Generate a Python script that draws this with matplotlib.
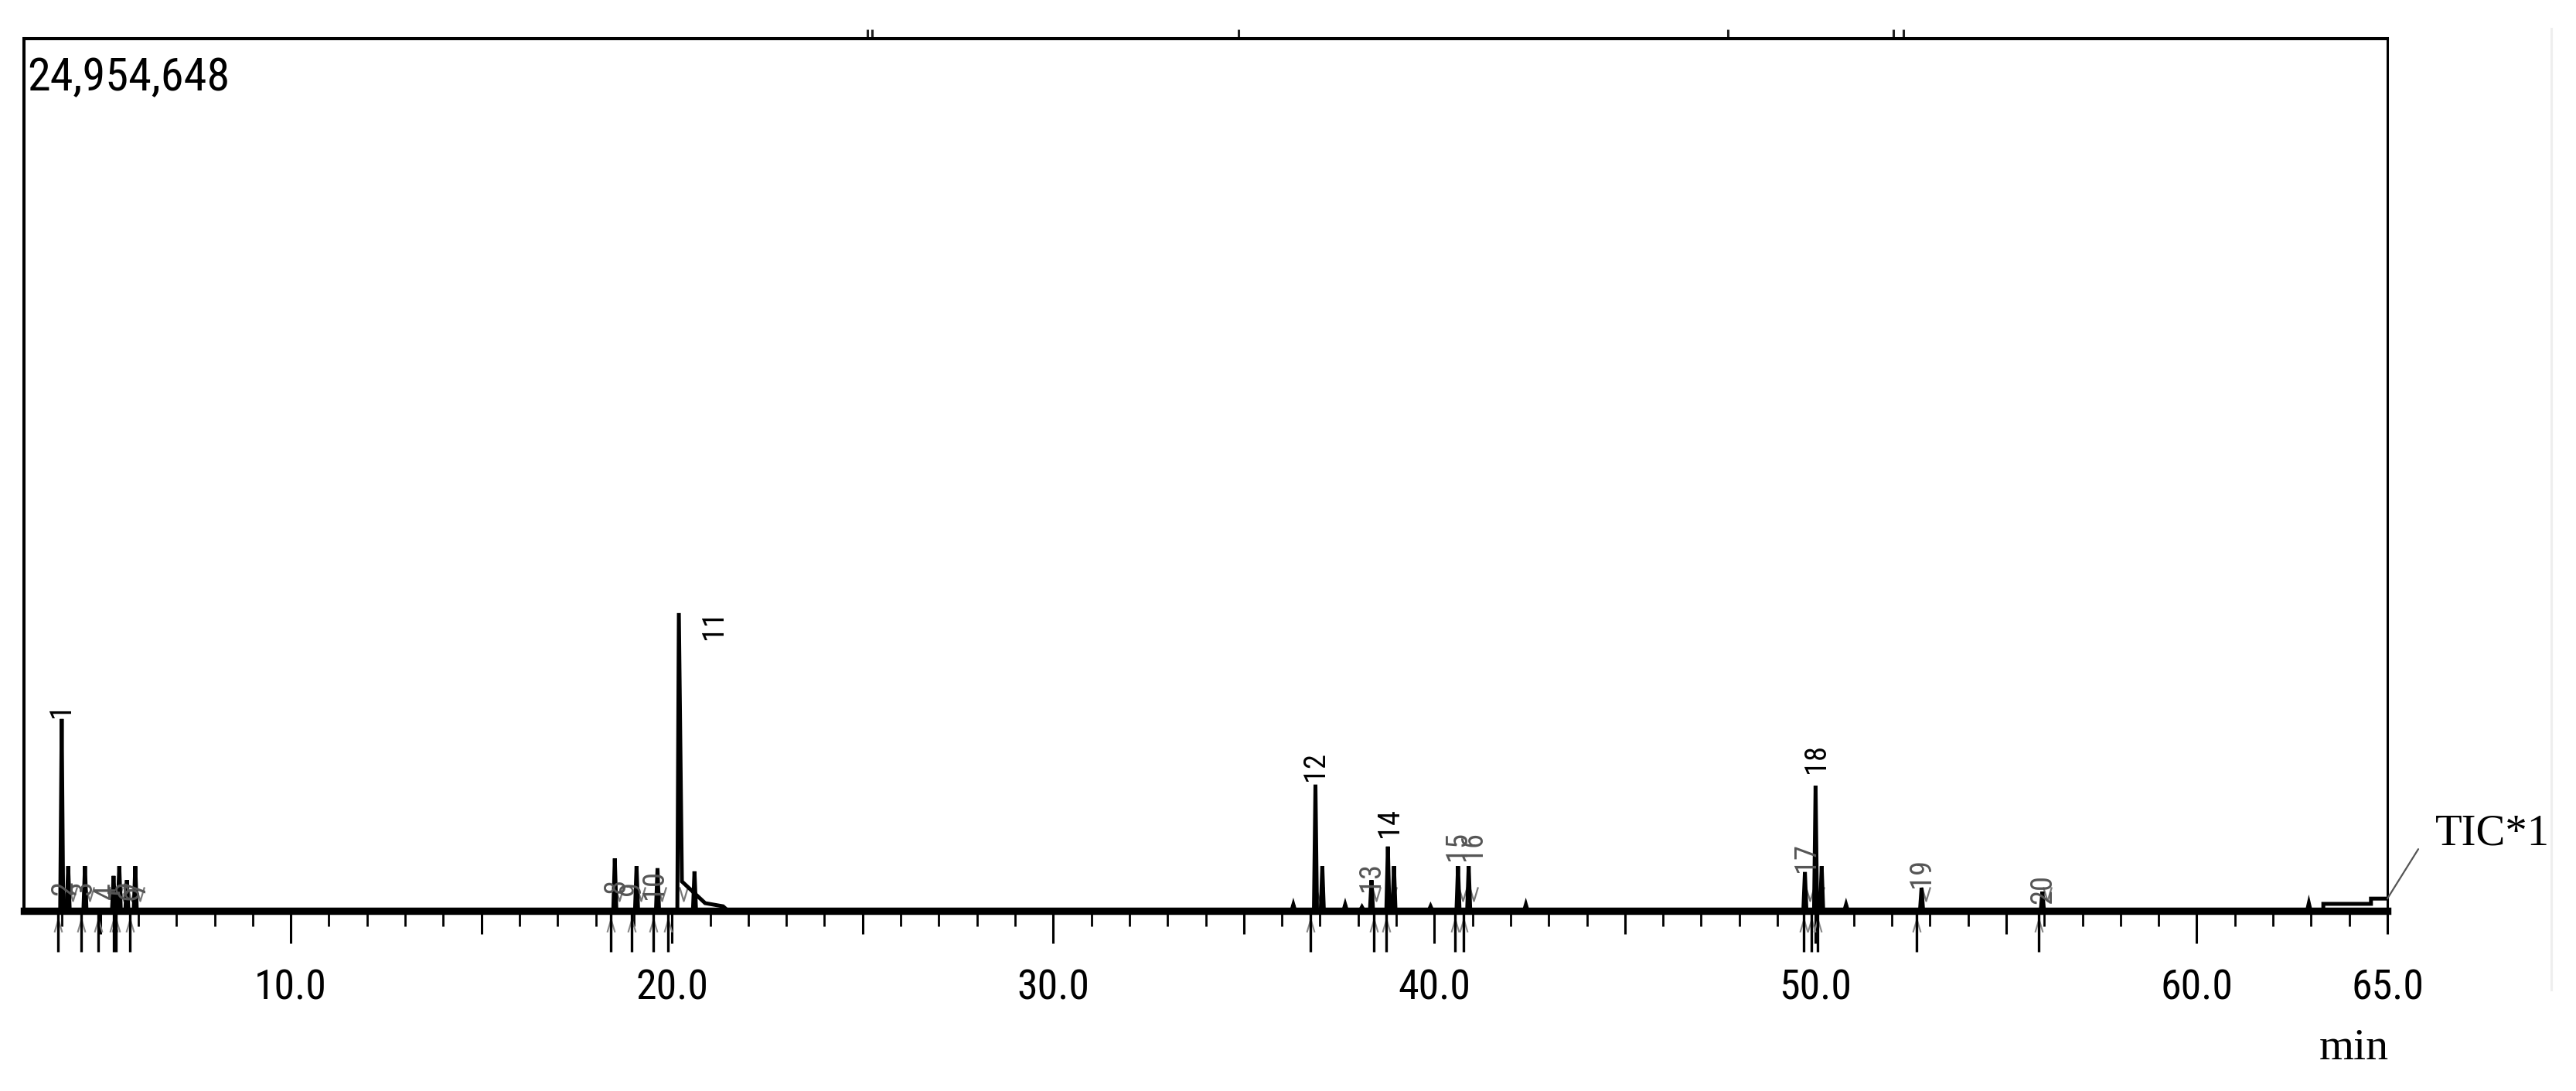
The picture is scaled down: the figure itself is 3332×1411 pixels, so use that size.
import matplotlib
matplotlib.use("Agg")
import matplotlib.pyplot as plt
import matplotlib.transforms as mtransforms
from matplotlib import font_manager as fm
from matplotlib.path import Path

# ---------------- data ----------------
FULL_SCALE = 24954648          # intensity at the top of the frame
BASE = 30000                   # trace baseline intensity

# labelled peaks: number, retention time (min), apex intensity
peak_no = ["1", "2", "3", "4", "5", "6", "7", "8", "9", "10",
           "11", "12", "13", "14", "15", "16", "17", "18", "19", "20"]
peak_t = [3.99, 4.16, 4.60, 5.35, 5.50, 5.70, 5.92, 18.50, 19.07, 19.62,
          20.18, 36.88, 38.35, 38.78, 40.62, 40.90, 49.72, 50.00, 52.78, 55.95]
peak_h = [5490000, 1280000, 1280000, 1000000, 1280000, 880000, 1280000, 1500000, 1280000, 1220000,
          8520000, 3610000, 880000, 1840000, 1280000, 1280000, 1110000, 3580000, 660000, 550000]

# unlabelled small peaks / shoulders
minor_t = [20.59, 36.30, 37.06, 37.66, 38.10, 38.94, 39.90, 42.40, 50.16, 50.80, 62.94]
minor_h = [1130000, 180000, 1280000, 180000, 110000, 1280000, 130000, 180000, 1280000, 180000, 220000]

# tailing of peak 11
tail11_t = [20.26, 20.87, 21.34, 21.44]
tail11_h = [840000, 220000, 130000, BASE]

# end of run: baseline steps up before 65 min
end_t = [63.32, 63.32, 64.57, 64.57, 65.0]
end_h = [BASE, 200000, 200000, 350000, 350000]

# peak-integration drop marks below the axis (min)
drop_t = [3.89, 4.50, 4.95, 5.35, 5.41, 5.78, 18.40, 18.94, 19.51, 19.90,
          36.75, 38.42, 38.74, 40.55, 40.77, 49.69, 49.90, 50.06, 52.64, 55.86]
# tiny marks above the frame (min)
top_t = [25.13, 25.25, 34.87, 47.70, 52.04, 52.30]

# axis ticks
major_ticks = [10, 20, 30, 40, 50, 60]
major_labels = ["10.0", "20.0", "30.0", "40.0", "50.0", "60.0"]
mid_ticks = [5, 15, 25, 35, 45, 55, 65]
mid_labels = ["", "", "", "", "", "", "65.0"]
minor_ticks = list(range(4, 65))

# label placement offsets in pixels (dx, dy) relative to apex
label_off = {"1": (0, 2), "2": (-5, -38), "3": (-2, -38), "4": (-8, -30), "5": (0, -38),
             "6": (4, -26), "7": (2, -38), "8": (2, -45), "9": (-6, -38), "10": (-4, -40),
             "11": (45, -34), "12": (0, 5), "13": (0, -15), "14": (2, 12), "15": (0, 7),
             "16": (6, 7), "17": (2, 0), "18": (1, 16), "19": (0, 0), "20": (1, -16)}

# ---------------- fonts ----------------
entries = fm.fontManager.ttflist
names = {f.name for f in entries}
NARROW, STRETCH = "DejaVu Sans", "normal"
for cand in ["Liberation Sans Narrow", "Roboto Condensed", "Open Sans Condensed",
             "Noto Sans Condensed", "DejaVu Sans Condensed"]:
    if cand in names:
        NARROW, STRETCH = cand, "normal"
        break
else:
    for fam in ["Roboto", "Noto Sans", "Open Sans", "DejaVu Sans"]:
        if any(f.name == fam and f.stretch in ("condensed", "semi-condensed", "extra-condensed")
               and f.style == "normal" for f in entries):
            NARROW, STRETCH = fam, "condensed"
            break
SERIF = "Liberation Serif" if "Liberation Serif" in names else "DejaVu Serif"

# ---------------- figure ----------------
W, H = 3332, 1411
fig = plt.figure(figsize=(W / 100, H / 100), dpi=100)
fig.patch.set_facecolor("white")
renderer = fig.canvas.get_renderer()


def fit_size(s, family, stretch, target_px):
    t = fig.text(0, 0, s, family=family, fontstretch=stretch, fontsize=100)
    w = t.get_window_extent(renderer).width
    t.remove()
    return 100.0 * target_px / w


fs_head = fit_size("24,954,648", NARROW, STRETCH, 262)
fs_tick = fit_size("50.0", NARROW, STRETCH, 94)
fs_peak = fit_size("12", NARROW, STRETCH, 38)
fs_tic = fit_size("TIC*1", SERIF, "normal", 148)
fs_min = fit_size("min", SERIF, "normal", 90)

x0, x1, ytop, ybot = 31, 3088, 50, 1178
ax = fig.add_axes([x0 / W, (H - ybot) / H, (x1 - x0) / W, (ybot - ytop) / H])
ax.set_xlim(3.0, 65.0)
ax.set_ylim(0, FULL_SCALE)

# build the trace polyline from the peak lists
Wd = 0.04
segs = []
for t, h, n in zip(peak_t, peak_h, peak_no):
    if n == "11":
        segs.append(([t - Wd, t] + tail11_t, [BASE, h] + tail11_h))
    else:
        segs.append(([t - Wd, t, t + Wd], [BASE, h, BASE]))
for t, h in zip(minor_t, minor_h):
    segs.append(([t - Wd, t, t + Wd], [BASE, h, BASE]))
segs.sort(key=lambda s: s[0][0])
tx, ty = [3.0], [BASE]
for st, sh in segs:
    tx += st
    ty += sh
tx += end_t
ty += end_h
ax.plot(tx, ty, color="black", lw=3.6, solid_joinstyle="miter", zorder=3)

# peak labels
for t, h, n in zip(peak_t, peak_h, peak_no):
    dx, dy = label_off[n]
    big = h > 1700000
    ax.annotate(n, xy=(t, h), xytext=(dx, dy), textcoords="offset pixels",
                rotation=90, ha="center", va="bottom", fontsize=fs_peak,
                family=NARROW, fontstretch=STRETCH,
                color="black" if big else "#555555", zorder=4)

# small V arrows above the baseline and Λ marks below
vpath = Path([(-0.6, 1), (0, -1), (0.6, 1)], [Path.MOVETO, Path.LINETO, Path.LINETO])
lpath = Path([(-0.6, -1), (0, 1), (0.6, -1)], [Path.MOVETO, Path.LINETO, Path.LINETO])
ax.plot([t + 0.12 for t in peak_t], [480000] * len(peak_t), ls="none", marker=vpath,
        ms=13, mfc="none", mec="#777777", mew=1.6, zorder=2)
blend = mtransforms.blended_transform_factory(ax.transData, ax.transAxes)
ax.plot(drop_t, [-0.017] * len(drop_t), ls="none", marker=lpath, ms=12, mfc="none",
        mec="#888888", mew=1.5, transform=blend, clip_on=False)
ax.vlines(drop_t, -0.047, 0, transform=blend, color="black", lw=2.4, clip_on=False)
ax.vlines(top_t, 1.0, 1.011, transform=blend, color="#222222", lw=2.2, clip_on=False)

# spines
ax.spines["top"].set_linewidth(2.9)
ax.spines["left"].set_linewidth(2.9)
ax.spines["right"].set_linewidth(2.2)
ax.spines["bottom"].set_linewidth(6.8)
ax.set_yticks([])

# ticks
ax.set_xticks(major_ticks)
ax.set_xticklabels(major_labels, family=NARROW, fontstretch=STRETCH, fontsize=fs_tick)
ax.set_xticks(minor_ticks, minor=True)
ax.tick_params(axis="x", which="major", length=30, width=2.2, pad=23.5, direction="out")
ax.tick_params(axis="x", which="minor", length=14.4, width=2.0, direction="out")
sec = ax.secondary_xaxis(0)
sec.spines["bottom"].set_visible(False)
sec.set_xticks(mid_ticks)
sec.set_xticklabels(mid_labels, family=NARROW, fontstretch=STRETCH, fontsize=fs_tick)
sec.tick_params(axis="x", length=21.6, width=2.2, pad=32, direction="out")

# texts
ax.text(0.0013, 0.9805, "24,954,648", transform=ax.transAxes, ha="left", va="top",
        family=NARROW, fontstretch=STRETCH, fontsize=fs_head, color="black")
fig.text(3090 / W, 1 - 1370 / H, "min", ha="right", va="baseline",
         family=SERIF, fontsize=fs_min, color="black")
# TIC*1 with its leader line from the end of the trace
ax.annotate("", xy=(65.0, end_h[-1]), xytext=(40, 64), textcoords="offset pixels",
            annotation_clip=False,
            arrowprops=dict(arrowstyle="-", color="#555555", lw=1.6, shrinkA=0, shrinkB=0))
ax.annotate("TIC*1", xy=(65.0, end_h[-1]), xytext=(62, 70), textcoords="offset pixels",
            ha="left", va="baseline", family=SERIF, fontsize=fs_tic, color="black",
            annotation_clip=False)

# faint vertical line at the right edge of the original image
fig.add_artist(plt.Line2D([3300 / W, 3300 / W], [1 - 37 / H, 1 - 1280 / H],
                          transform=fig.transFigure, color="#eeeeee", lw=2.2))

fig.savefig("out.png", dpi=100, facecolor="white")
